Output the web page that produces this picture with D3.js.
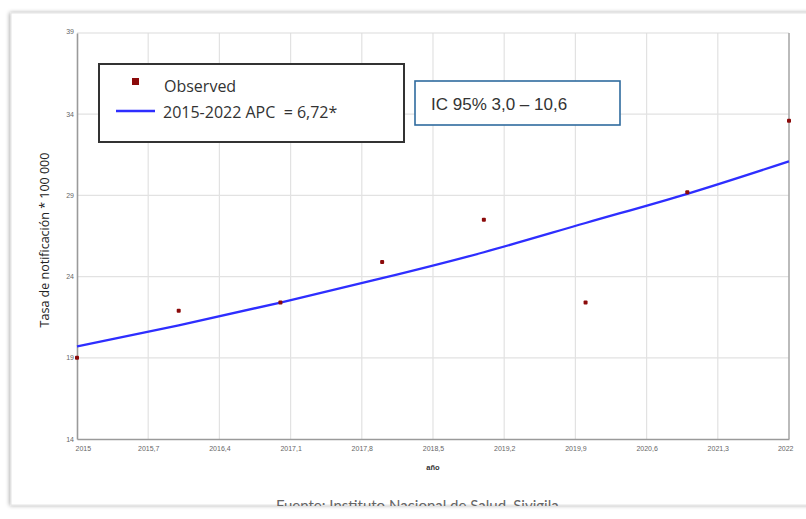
<!DOCTYPE html>
<html>
<head>
<meta charset="utf-8">
<script src="https://cdn.jsdelivr.net/npm/d3@7"></script>
<style>
  body { margin: 0; background: #fff; }
  text { font-family: "Open Sans", "Noto Sans", sans-serif; }
</style>
</head>
<body>
<div id="chart"></div>
<script>
// Data
var years = [2015, 2016, 2017, 2018, 2019, 2020, 2021, 2022];
var observed = [19.0, 21.9, 22.4, 24.9, 27.5, 22.4, 29.2, 33.6];
var fitted = [19.7, 21.0, 22.4, 23.9, 25.5, 27.3, 29.1, 31.1];
var xTicks = [2015, 2015.7, 2016.4, 2017.1, 2017.8, 2018.5, 2019.2, 2019.9, 2020.6, 2021.3, 2022];
var yTicks = [14, 19, 24, 29, 34, 39];

var svgWidth = 806;
var svgHeight = 519;

var margin = { top: 33, right: 17, bottom: 80, left: 77 };
var width = svgWidth - margin.left - margin.right;
var height = svgHeight - margin.top - margin.bottom;

var svg = d3.select("#chart")
  .append("svg")
  .attr("width", svgWidth)
  .attr("height", svgHeight);

// shadowed card behind the chart
var defs = svg.append("defs");
var f = defs.append("filter").attr("id", "shadow")
  .attr("x", "-5%").attr("y", "-5%").attr("width", "110%").attr("height", "110%");
f.append("feGaussianBlur").attr("in", "SourceAlpha").attr("stdDeviation", 2);
f.append("feOffset").attr("dx", -1).attr("dy", 0).attr("result", "b");
f.append("feComponentTransfer").append("feFuncA").attr("type", "linear").attr("slope", 0.35);
var fm = f.append("feMerge");
fm.append("feMergeNode");
fm.append("feMergeNode").attr("in", "SourceGraphic");

svg.append("rect")
  .attr("x", 11).attr("y", 13)
  .attr("width", 820).attr("height", 492)
  .attr("fill", "#fff")
  .attr("stroke", "#e4e4e4")
  .attr("filter", "url(#shadow)");

var chartGroup = svg.append("g")
  .attr("transform", `translate(${margin.left}, ${margin.top})`);

var x = d3.scaleLinear().domain([2015, 2022]).range([0, width]);
var y = d3.scaleLinear().domain([14, 39]).range([height, 0]);

// grid
chartGroup.append("g")
  .selectAll("line")
  .data(xTicks.slice(1, -1))
  .enter().append("line")
  .attr("x1", d => x(d)).attr("x2", d => x(d))
  .attr("y1", 0).attr("y2", height)
  .attr("stroke", "#e2e2e2").attr("stroke-width", 1.2);

chartGroup.append("g")
  .selectAll("line")
  .data(yTicks.slice(1, -1))
  .enter().append("line")
  .attr("x1", 0).attr("x2", width)
  .attr("y1", d => y(d)).attr("y2", d => y(d))
  .attr("stroke", "#e2e2e2").attr("stroke-width", 1.2);

// frame of the plot
chartGroup.append("line").attr("x1", 0).attr("x2", width).attr("y1", 0).attr("y2", 0)
  .attr("stroke", "#dcdcdc").attr("stroke-width", 1.2);
chartGroup.append("line").attr("x1", width).attr("x2", width).attr("y1", 0).attr("y2", height)
  .attr("stroke", "#aaa").attr("stroke-width", 1.6);

// axes
var bottomAxis = d3.axisBottom(x).tickValues(xTicks).tickSize(0).tickPadding(7)
  .tickFormat(d => String(d).replace(".", ","));
var leftAxis = d3.axisLeft(y).tickValues(yTicks).tickSize(0).tickPadding(3);

var xAxis = chartGroup.append("g")
  .attr("transform", `translate(0, ${height})`)
  .call(bottomAxis);
var yAxis = chartGroup.append("g").call(leftAxis);

[xAxis, yAxis].forEach(g => {
  g.select(".domain").attr("stroke", "#9a9a9a").attr("stroke-width", 1.6);
  g.selectAll("text")
    .attr("fill", "#666")
    .style("font-size", "7px")
    .style("font-family", "'Liberation Sans', Arial, sans-serif");
});
xAxis.selectAll(".tick text").attr("text-anchor", (d, i) => i === 0 ? "start" : (i === xTicks.length - 1 ? "end" : "middle"))
  .attr("dx", (d, i) => i === 0 ? -2 : (i === xTicks.length - 1 ? 4 : 0));
yAxis.selectAll(".tick text").attr("dy", "0.3em");
// top label is half hidden in the picture
yAxis.selectAll(".tick").filter(d => d === 39).select("text").attr("dy", "0.05em");

// fitted line
var line = d3.line()
  .x((d, i) => x(years[i]))
  .y(d => y(d))
  .curve(d3.curveNatural);

chartGroup.append("path")
  .datum(fitted)
  .attr("d", line)
  .attr("fill", "none")
  .attr("stroke", "#2e2eff")
  .attr("stroke-width", 2.3);

// observed points
chartGroup.selectAll(".obs")
  .data(observed)
  .enter().append("rect")
  .attr("class", "obs")
  .attr("x", (d, i) => x(years[i]) - 2)
  .attr("y", d => y(d) - 2)
  .attr("width", 4).attr("height", 4)
  .attr("rx", 1)
  .attr("fill", "#8b0a0a");

// axis titles
chartGroup.append("text")
  .attr("transform", "rotate(-90)")
  .attr("x", 0 - (207))
  .attr("y", 0 - 28)
  .attr("text-anchor", "middle")
  .attr("fill", "#222")
  .style("font-size", "12.5px")
  .text("Tasa de notificación * 100 000");

chartGroup.append("text")
  .attr("x", x(2018.5))
  .attr("y", height + 31)
  .attr("text-anchor", "middle")
  .attr("fill", "#333")
  .style("font-size", "7.5px")
  .style("font-weight", "bold")
  .style("font-family", "'Liberation Sans', Arial, sans-serif")
  .text("año");

// legend box
var legend = svg.append("g");
legend.append("rect")
  .attr("x", 99).attr("y", 64)
  .attr("width", 305).attr("height", 78)
  .attr("fill", "#fff")
  .attr("stroke", "#333").attr("stroke-width", 2);
legend.append("rect")
  .attr("x", 132).attr("y", 78).attr("width", 7).attr("height", 7)
  .attr("fill", "#8b0a0a");
legend.append("text")
  .attr("x", 164).attr("y", 92)
  .attr("fill", "#333")
  .style("font-size", "16px")
  .text("Observed");
legend.append("line")
  .attr("x1", 116).attr("x2", 155).attr("y1", 111).attr("y2", 111)
  .attr("stroke", "#2e2eff").attr("stroke-width", 2.5);
legend.append("text")
  .attr("x", 163).attr("y", 118)
  .attr("fill", "#333")
  .style("font-size", "16px")
  .attr("xml:space", "preserve")
  .text("2015-2022 APC  = 6,72*");

// IC annotation
svg.append("rect")
  .attr("x", 415).attr("y", 81)
  .attr("width", 205).attr("height", 44)
  .attr("fill", "#fff")
  .attr("stroke", "#2f6b9e").attr("stroke-width", 1.6);
svg.append("text")
  .attr("x", 431).attr("y", 110)
  .attr("fill", "#333")
  .style("font-size", "17px")
  .style("font-family", "'Liberation Sans', Arial, sans-serif")
  .text("IC 95% 3,0 – 10,6");

// source, cut off at the bottom as in the picture
defs.append("clipPath").attr("id", "cut")
  .append("rect").attr("x", 0).attr("y", 0).attr("width", svgWidth).attr("height", 506);
svg.append("text")
  .attr("x", 276).attr("y", 511)
  .attr("clip-path", "url(#cut)")
  .attr("fill", "#666")
  .style("font-size", "15px")
  .style("font-family", "Lato, sans-serif")
  .text("Fuente: Instituto Nacional de Salud, Sivigila");
</script>
</body>
</html>
